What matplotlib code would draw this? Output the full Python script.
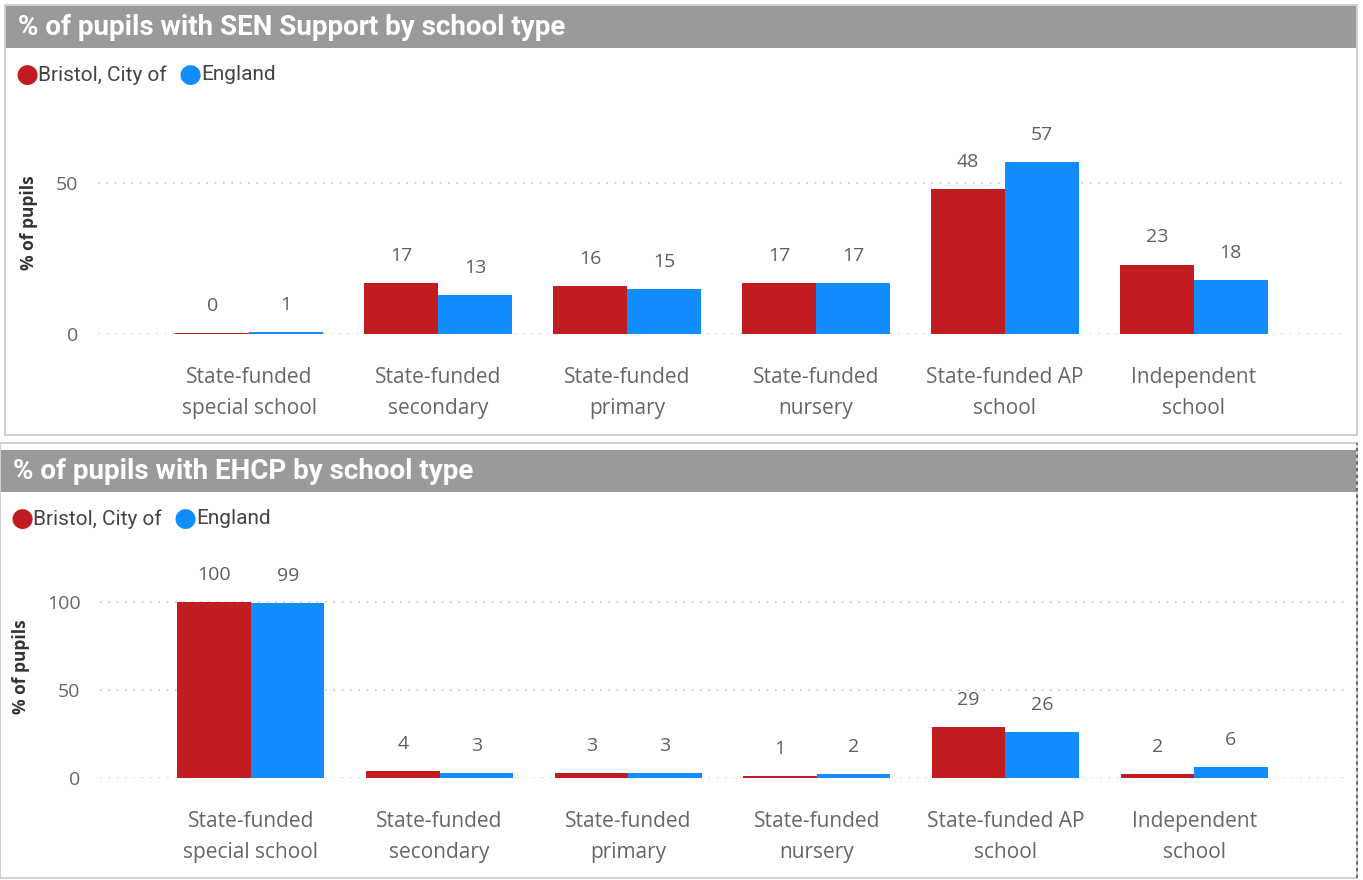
import matplotlib.pyplot as plt
from matplotlib.patches import Rectangle
import numpy as np

# school types and percentages
categories = ['State-funded\nspecial school', 'State-funded\nsecondary', 'State-funded\nprimary',
              'State-funded\nnursery', 'State-funded AP\nschool', 'Independent\nschool']
series_names = ['Bristol, City of', 'England']
sen_bristol = [0.4, 17, 16, 17, 48, 23]
sen_england = [0.6, 13, 15, 17, 57, 18]
ehcp_bristol = [100, 4, 3, 1, 29, 2]
ehcp_england = [99, 3, 3, 2, 26, 6]

RED = '#C11C1F'
BLUE = '#118DFF'
GREY_TXT = '#666666'
HEADER = '#9A9A9A'
TITLE_FONT = ['Roboto', 'DejaVu Sans']
BODY_FONT = ['Open Sans', 'DejaVu Sans']

W, H = 1363, 880
fig = plt.figure(figsize=(W / 100, H / 100), dpi=100)


def px_box(x0, y0, x1, y1):
    # pixel box (top-left origin) -> figure fraction [left, bottom, width, height]
    return [x0 / W, 1 - y1 / H, (x1 - x0) / W, (y1 - y0) / H]


def panel(frame, header, title, legend_y, ax_box, ylim, yticks, ylab_x, b_vals, e_vals, dashed_right=False):
    l, b, w, h = px_box(*frame)
    fig.patches.append(Rectangle((l, b), w, h, transform=fig.transFigure,
                                 fill=False, ec='#C8C8C8', lw=1.2))
    if dashed_right:
        fig.add_artist(plt.Line2D([l + w, l + w], [b, b + h], transform=fig.transFigure,
                                  color='#555555', lw=1.2, ls=(0, (2, 2))))
    l, b, w, h = px_box(*header)
    fig.patches.append(Rectangle((l, b), w, h, transform=fig.transFigure,
                                 fc=HEADER, ec='none'))
    fig.text(l + 12 / W, b + h / 2, title, color='white', fontsize=20, fontweight='bold',
             family=TITLE_FONT, va='center', ha='left')

    # legend with round markers
    lx = (frame[0] + 22) / W
    ly = 1 - legend_y / H
    fig.text(lx, ly, '\u25CF', color=RED, fontsize=19, va='center', ha='center')
    fig.text(lx + 11 / W, ly, series_names[0], color='#444444', fontsize=15,
             family=TITLE_FONT, va='center')
    lx2 = lx + 163 / W
    fig.text(lx2, ly, '\u25CF', color=BLUE, fontsize=19, va='center', ha='center')
    fig.text(lx2 + 11 / W, ly, series_names[1], color='#444444', fontsize=15,
             family=TITLE_FONT, va='center')

    ax = fig.add_axes(px_box(*ax_box))
    x = np.arange(len(categories))
    bw = 0.39
    bars1 = ax.bar(x - bw / 2, b_vals, bw, color=RED)
    bars2 = ax.bar(x + bw / 2, e_vals, bw, color=BLUE)
    for bars in (bars1, bars2):
        for rect in bars:
            v = rect.get_height()
            ax.annotate(f'{v:.0f}', (rect.get_x() + rect.get_width() / 2, v),
                        xytext=(0, 19.5), textcoords='offset points', ha='center', va='center',
                        fontsize=14, color='#5F5F5F', family=BODY_FONT)
    ax.set_xlim(-0.8, 5.8)
    ax.set_ylim(*ylim)
    ax.set_yticks(yticks)
    ax.set_xticks(x)
    ax.set_xticklabels(categories, fontsize=15, color=GREY_TXT, family=BODY_FONT, linespacing=1.6)
    ax.tick_params(axis='y', labelsize=14, labelcolor=GREY_TXT, length=0, pad=14)
    ax.tick_params(axis='x', length=0, pad=24)
    for t in ax.get_yticklabels():
        t.set_family(BODY_FONT)
    ax.grid(axis='y', color='#C8C8C8', ls=(0, (1, 4)), lw=1.2)
    ax.set_axisbelow(True)
    for s in ax.spines.values():
        s.set_visible(False)
    ax.patch.set_alpha(0)
    yc = 1 - (ax_box[1] + ax_box[3]) / 2 / H
    fig.text(ylab_x / W, yc, '% of pupils', rotation=90, fontsize=12.5, fontweight='bold',
             color='#333333', va='center', ha='center', family=BODY_FONT)
    return ax


# SEN support panel
panel(frame=(5, 5, 1357, 435), header=(6, 6, 1356, 48),
      title='% of pupils with SEN Support by school type', legend_y=75,
      ax_box=(98, 112, 1345, 334), ylim=(0, 73.5), yticks=[0, 50], ylab_x=29,
      b_vals=sen_bristol, e_vals=sen_england)

# EHCP panel
panel(frame=(0, 443, 1357, 878), header=(1, 450, 1356, 492),
      title='% of pupils with EHCP by school type', legend_y=519,
      ax_box=(100, 555, 1345, 778), ylim=(0, 126.5), yticks=[0, 50, 100], ylab_x=21,
      b_vals=ehcp_bristol, e_vals=ehcp_england, dashed_right=True)

fig.savefig('out.png', dpi=100)
